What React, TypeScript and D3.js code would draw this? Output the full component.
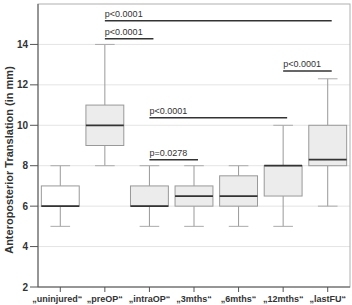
import React from "react";
import * as d3 from "d3";

const categories = ["„uninjured“", "„preOP“", "„intraOP“", "„3mths“", "„6mths“", "„12mths“", "„lastFU“"];
const whiskerLow = [5, 8, 5, 5, 5, 5, 6];
const q1 = [6, 9, 6, 6, 6, 6.5, 8];
const median = [6, 10, 6, 6.5, 6.5, 8, 8.3];
const q3 = [7, 11, 7, 7, 7.5, 8, 10];
const whiskerHigh = [8, 14, 8, 8, 8, 10, 12.3];
const boxFills = ["#ffffff", "#ececec", "#ececec", "#ececec", "#ececec", "#ececec", "#ececec"];

const yTicks = [2, 4, 6, 8, 10, 12, 14];
const gridValues = [4, 6, 8, 10, 12, 14];

// significance brackets: from category, to category, label, vertical level (in value units)
const sigFrom = [1, 1, 2, 2, 5];
const sigTo = [6, 2, 5, 3, 6];
const sigLabels = ["p<0.0001", "p<0.0001", "p<0.0001", "p=0.0278", "p<0.0001"];
const sigLevels = [15.17, 14.28, 10.37, 8.3, 12.68];

const W = 352;
const H = 305;
const margin = { left: 38, right: 2, top: 4, bottom: 18 };

export default function App() {
  const x = d3
    .scaleBand<string>()
    .domain(categories)
    .range([margin.left, W - margin.right])
    .paddingInner(0)
    .paddingOuter(0);
  const y = d3.scaleLinear().domain([2, 16]).range([H - margin.bottom, margin.top]);
  const bw = x.bandwidth();
  const boxW = bw * 0.85;
  const capW = bw * 0.44;
  const cx = (i: number) => (x(categories[i]) as number) + bw / 2;
  const font = "Arial, 'Liberation Sans', sans-serif";

  return (
    <svg
      width={W}
      height={H}
      style={{ position: "absolute", left: 0, top: 0, background: "#fff" }}
      fontFamily={font}
    >
      {/* grid */}
      {gridValues.map((v) => (
        <line key={"g" + v} x1={margin.left} x2={W - margin.right} y1={y(v)} y2={y(v)} stroke="#e4e4e4" strokeWidth={1} />
      ))}
      {/* frame */}
      <rect
        x={margin.left}
        y={margin.top}
        width={W - margin.right - margin.left}
        height={H - margin.bottom - margin.top}
        fill="none"
        stroke="#b0b0b0"
        strokeWidth={1}
      />
      <line x1={margin.left} x2={margin.left} y1={margin.top} y2={H - margin.bottom} stroke="#555" strokeWidth={1} />
      <line x1={margin.left} x2={W - margin.right} y1={H - margin.bottom} y2={H - margin.bottom} stroke="#555" strokeWidth={1} />

      {/* y axis ticks and labels */}
      {yTicks.map((v) => (
        <g key={"t" + v}>
          <line x1={margin.left - 8} x2={margin.left} y1={y(v)} y2={y(v)} stroke="#555" />
          <text x={margin.left - 10} y={y(v)} dy="0.35em" textAnchor="end" fontSize={10} fontWeight="bold" fill="#333">
            {v}
          </text>
        </g>
      ))}
      <text
        transform={`translate(13, 160) rotate(-90)`}
        textAnchor="middle"
        fontSize={11}
        fontWeight="bold"
        fill="#333"
      >
        Anteroposterior Translation (in mm)
      </text>

      {/* x axis ticks and labels */}
      {categories.map((c, i) => (
        <g key={"x" + c}>
          <line x1={cx(i)} x2={cx(i)} y1={H - margin.bottom} y2={H - margin.bottom + 5} stroke="#555" />
          <text x={cx(i) - (i === 0 ? 3 : 0)} y={H - 3} textAnchor="middle" fontSize={9} fontWeight="bold" fill="#333">
            {c}
          </text>
        </g>
      ))}

      {/* boxes */}
      {categories.map((c, i) => (
        <g key={"b" + c}>
          <line x1={cx(i)} x2={cx(i)} y1={y(whiskerLow[i])} y2={y(q1[i])} stroke="#999" />
          <line x1={cx(i)} x2={cx(i)} y1={y(q3[i])} y2={y(whiskerHigh[i])} stroke="#999" />
          <line x1={cx(i) - capW / 2} x2={cx(i) + capW / 2} y1={y(whiskerLow[i])} y2={y(whiskerLow[i])} stroke="#aaa" />
          <line x1={cx(i) - capW / 2} x2={cx(i) + capW / 2} y1={y(whiskerHigh[i])} y2={y(whiskerHigh[i])} stroke="#aaa" />
          <rect
            x={cx(i) - boxW / 2}
            y={y(q3[i])}
            width={boxW}
            height={Math.max(0, y(q1[i]) - y(q3[i]))}
            fill={boxFills[i]}
            stroke="#999"
          />
          <line x1={cx(i) - boxW / 2} x2={cx(i) + boxW / 2} y1={y(median[i])} y2={y(median[i])} stroke="#333" strokeWidth={1.8} />
        </g>
      ))}

      {/* significance brackets */}
      {sigLabels.map((lab, k) => {
        const x1 = cx(sigFrom[k]);
        const x2 = cx(sigTo[k]) + 4;
        const yy = y(sigLevels[k]);
        return (
          <g key={"s" + k}>
            <line x1={x1} x2={x2} y1={yy} y2={yy} stroke="#333" strokeWidth={1.5} />
            <text x={x1} y={yy - 4} fontSize={9} fill="#333">
              {lab}
            </text>
          </g>
        );
      })}
    </svg>
  );
}
